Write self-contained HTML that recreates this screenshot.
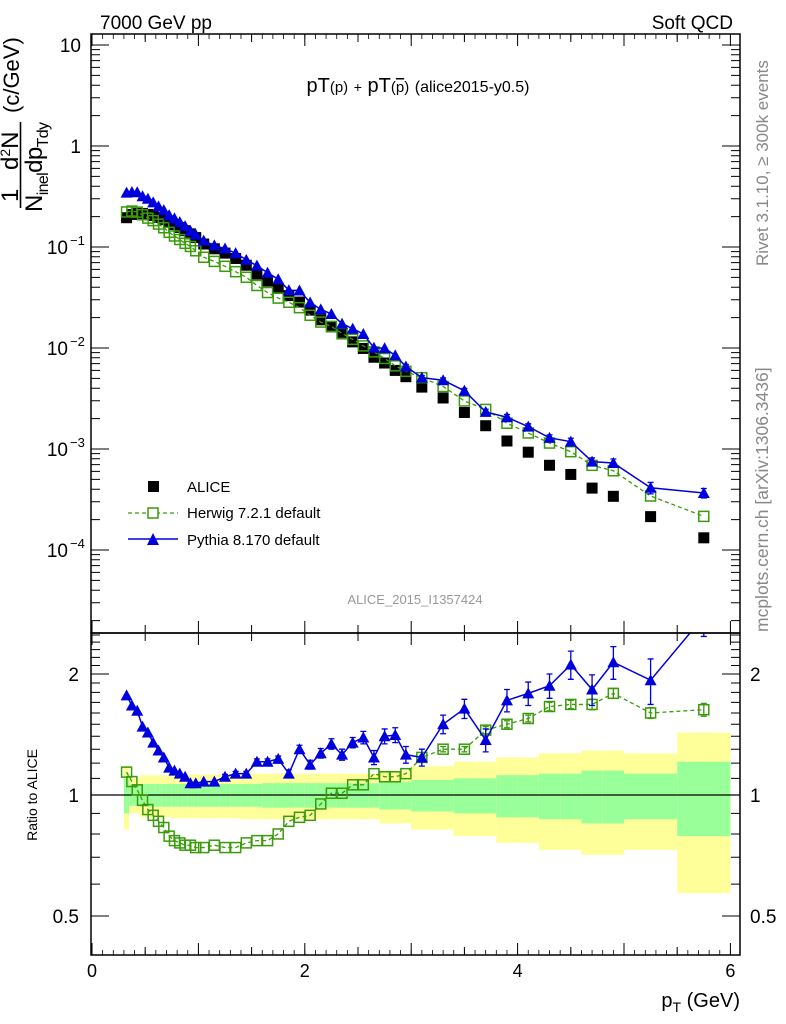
<!DOCTYPE html>
<html><head><meta charset="utf-8"><style>
html,body{margin:0;padding:0;background:#fff;}
svg{display:block;font-family:"Liberation Sans",sans-serif;}
</style></head><body>
<svg id="c" width="786" height="1024" viewBox="0 0 786 1024">
<g id="bands"></g>
<g id="marks"></g>
<g id="axes"></g>
<text x="100" y="29" font-size="19">7000 GeV pp</text>
<text x="733" y="29" font-size="19" text-anchor="end">Soft QCD</text>
<text x="418" y="92" font-size="20" text-anchor="middle">pT<tspan font-size="15">(p)</tspan> <tspan font-size="14">+</tspan> pT<tspan font-size="15">(</tspan><tspan font-size="15" text-decoration="overline">p</tspan><tspan font-size="15">)</tspan> <tspan font-size="16">(alice2015-y0.5)</tspan></text>
<text x="415" y="604" font-size="13" fill="#999" text-anchor="middle">ALICE_2015_I1357424</text>
<text transform="translate(768,266) rotate(-90)" font-size="17" fill="#888">Rivet 3.1.10, ≥ 300k events</text>
<text transform="translate(768,632) rotate(-90)" font-size="17.5" fill="#888">mcplots.cern.ch [arXiv:1306.3436]</text>
<g font-size="24">
<text transform="translate(18,202) rotate(-90)">1</text>
<text transform="translate(18,170) rotate(-90)">d<tspan font-size="14" dy="-8">2</tspan><tspan dy="8">N</tspan></text>
<line x1="20.5" y1="122" x2="20.5" y2="208" stroke="#000" stroke-width="1.6"/>
<text transform="translate(42,212) rotate(-90)" textLength="90">N<tspan font-size="16" dy="6">inel</tspan><tspan dy="-6">dp</tspan><tspan font-size="16" dy="6">Tdy</tspan></text>
<text transform="translate(19,113) rotate(-90)" font-size="22">(c/GeV)</text>
</g>
<text transform="translate(37,795) rotate(-90)" font-size="14" text-anchor="middle">Ratio to ALICE</text>
<text x="740" y="1007" font-size="20" text-anchor="end">p<tspan font-size="14" dy="5">T</tspan><tspan dy="-5"> (GeV)</tspan></text>
<g font-size="15">
<g><rect x="148" y="481" width="11" height="11" fill="#000"/><text x="187" y="492">ALICE</text></g>
<g><line x1="128" y1="513" x2="178" y2="513" stroke="#3a9a0a" stroke-dasharray="4,3" stroke-width="1.3"/><rect x="148" y="508" width="10" height="10" fill="#fff" stroke="#3a9a0a" stroke-width="1.5"/><text x="187" y="518">Herwig 7.2.1 default</text></g>
<g><line x1="128" y1="539" x2="178" y2="539" stroke="#0000dd" stroke-width="1.5"/><polygon points="147,545 159,545 153,533" fill="#0000dd"/><text x="187" y="545">Pythia 8.170 default</text></g>
</g>
</svg>
<script>
const xs=[0.325,0.375,0.425,0.475,0.525,0.575,0.625,0.675,0.725,0.775,0.825,0.875,0.925,0.975,1.05,1.15,1.25,1.35,1.45,1.55,1.65,1.75,1.85,1.95,2.05,2.15,2.25,2.35,2.45,2.55,2.65,2.75,2.85,2.95,3.1,3.3,3.5,3.7,3.9,4.1,4.3,4.5,4.7,4.9,5.25,5.75];
const binLo=[0.3,0.35,0.4,0.45,0.5,0.55,0.6,0.65,0.7,0.75,0.8,0.85,0.9,0.95,1.0,1.1,1.2,1.3,1.4,1.5,1.6,1.7,1.8,1.9,2.0,2.1,2.2,2.3,2.4,2.5,2.6,2.7,2.8,2.9,3.0,3.2,3.4,3.6,3.8,4.0,4.2,4.4,4.6,4.8,5.0,5.5];
const binHi=[0.35,0.4,0.45,0.5,0.55,0.6,0.65,0.7,0.75,0.8,0.85,0.9,0.95,1.0,1.1,1.2,1.3,1.4,1.5,1.6,1.7,1.8,1.9,2.0,2.1,2.2,2.3,2.4,2.5,2.6,2.7,2.8,2.9,3.0,3.2,3.4,3.6,3.8,4.0,4.2,4.4,4.6,4.8,5.0,5.5,6.0];
const alice=[0.195,0.21,0.215,0.215,0.21,0.205,0.196,0.187,0.177,0.167,0.156,0.145,0.135,0.124,0.107,0.096,0.087,0.077,0.066,0.054,0.046,0.039,0.033,0.0285,0.0237,0.019,0.0162,0.0138,0.0115,0.0099,0.0081,0.0071,0.006,0.0052,0.0041,0.0032,0.0023,0.0017,0.0012,0.00093,0.00069,0.00056,0.00041,0.00034,0.000214,0.000132];
const statErr=[0.10,0.06,0.06,0.065,0.065,0.065,0.065,0.065,0.065,0.065,0.065,0.065,0.065,0.065,0.065,0.065,0.065,0.065,0.065,0.065,0.07,0.07,0.07,0.07,0.07,0.07,0.07,0.07,0.07,0.07,0.07,0.08,0.08,0.08,0.09,0.09,0.10,0.10,0.12,0.12,0.13,0.13,0.15,0.15,0.13,0.21];
const totErr=[0.18,0.10,0.10,0.12,0.12,0.12,0.12,0.12,0.12,0.125,0.125,0.125,0.125,0.125,0.125,0.125,0.125,0.125,0.13,0.13,0.13,0.13,0.13,0.13,0.13,0.13,0.13,0.13,0.13,0.13,0.13,0.15,0.15,0.15,0.18,0.18,0.21,0.21,0.24,0.24,0.27,0.27,0.29,0.29,0.27,0.43];
const herwigRatio=[1.14,1.08,1.03,0.97,0.92,0.89,0.86,0.83,0.79,0.77,0.76,0.75,0.75,0.74,0.74,0.75,0.74,0.74,0.76,0.77,0.77,0.80,0.86,0.88,0.89,0.95,1.01,1.01,1.06,1.06,1.13,1.11,1.11,1.13,1.24,1.30,1.30,1.45,1.50,1.55,1.66,1.68,1.68,1.79,1.60,1.63];
const herwigErr=[0.005,0.005,0.005,0.005,0.005,0.005,0.005,0.005,0.005,0.005,0.005,0.005,0.005,0.005,0.005,0.005,0.005,0.005,0.005,0.005,0.005,0.005,0.005,0.005,0.005,0.008,0.008,0.008,0.01,0.01,0.01,0.01,0.012,0.012,0.015,0.02,0.02,0.03,0.03,0.03,0.04,0.04,0.05,0.05,0.05,0.06];
const pythiaRatio=[1.77,1.67,1.62,1.48,1.43,1.35,1.29,1.24,1.17,1.15,1.13,1.11,1.07,1.07,1.08,1.08,1.11,1.13,1.13,1.21,1.21,1.23,1.13,1.30,1.19,1.27,1.34,1.26,1.35,1.39,1.24,1.40,1.41,1.26,1.24,1.50,1.64,1.37,1.72,1.79,1.87,2.11,1.83,2.14,1.93,2.78];
const pythiaErr=[0.01,0.01,0.01,0.01,0.01,0.01,0.01,0.01,0.01,0.01,0.01,0.01,0.01,0.01,0.01,0.01,0.015,0.015,0.015,0.02,0.02,0.02,0.025,0.03,0.03,0.035,0.04,0.04,0.04,0.05,0.05,0.06,0.06,0.06,0.06,0.08,0.09,0.09,0.11,0.12,0.13,0.17,0.16,0.2,0.25,0.3];
const mainTicks=[10,1,0.1,0.01,0.001,0.0001];
const mainTickLabels=["10","1","10","10","10","10"];
const mainTickExp=["","","−1","−2","−3","−4"];
const ratioTicks=[2,1,0.5];
const ratioTickLabels=["2","1","0.5"];
const xTicks=[0,2,4,6];
const xTickLabels=["0","2","4","6"];

const NS="http://www.w3.org/2000/svg";
const L=91,R=740,T=34,MB=633,RB=955;
const sx=v=>L+1+v*106.4;
const syMain=v=>146-101*Math.log10(v);
const syRat=v=>795-121*Math.log2(v);
function el(tag,attrs,parent){const e=document.createElementNS(NS,tag);for(const k in attrs)e.setAttribute(k,attrs[k]);parent.appendChild(e);return e;}
const bands=document.getElementById('bands'),marks=document.getElementById('marks'),axes=document.getElementById('axes');

for(let i=0;i<xs.length;i++){
  const x0=sx(binLo[i]),x1=sx(binHi[i]);
  const y=el('rect',{x:x0,y:syRat(1+totErr[i]),width:x1-x0,height:syRat(1-totErr[i])-syRat(1+totErr[i]),fill:'#ffff99'},bands);
  
  
  const g=el('rect',{x:x0,y:syRat(1+statErr[i]),width:x1-x0,height:syRat(1-statErr[i])-syRat(1+statErr[i]),fill:'#99ff99'},bands);
  
  
}
const one=el('line',{x1:L,x2:R,y1:syRat(1),y2:syRat(1),stroke:'#000','stroke-width':1.3},bands);



function clipRect(id,y0,y1){const d=el('clipPath',{id:id},marks);el('rect',{x:L,y:y0,width:R-L,height:y1-y0},d);}
clipRect('cm',T,MB);clipRect('cr',MB,RB);
const gm=el('g',{'clip-path':'url(#cm)'},marks),gr=el('g',{'clip-path':'url(#cr)'},marks);





function series(g,vals,errs,sy,color,dash,marker,name){
  const pts=vals.map((v,i)=>sx(xs[i])+','+sy(v)).join(' ');
  const pl=el('polyline',{points:pts,fill:'none',stroke:color,'stroke-width':marker==='tri'?1.5:1.3,'stroke-dasharray':dash},g);
  
  
  vals.forEach((v,i)=>{
    const x=sx(xs[i]),y=sy(v);
    if(errs){const e=errs[i];const y1=sy(v+e),y2=sy(Math.max(v-e,1e-9));
      if(y2-y1>4){const eb=el('path',{d:`M${x},${y1}V${y2}M${x-3},${y1}H${x+3}M${x-3},${y2}H${x+3}`,stroke:color,'stroke-width':1.3,fill:'none'},g);
      
      }}
    let m;
    if(marker==='tri')m=el('polygon',{points:`${x-6},${y+5} ${x+6},${y+5} ${x},${y-6}`,fill:color},g);
    else m=el('rect',{x:x-5,y:y-5,width:10,height:10,fill:'#fff','fill-opacity':0.0,stroke:color,'stroke-width':1.5},g);
    
    
  });
}
alice.forEach((v,i)=>{
  const r=el('rect',{x:sx(xs[i])-5.5,y:syMain(v)-5.5,width:11,height:11,fill:'#000'},gm);
  
  
});
const herwigMain=alice.map((v,i)=>v*herwigRatio[i]);
const pythiaMain=alice.map((v,i)=>v*pythiaRatio[i]);
series(gm,herwigMain,herwigMain.map((v,i)=>v*herwigErr[i]/herwigRatio[i]),syMain,'#3a9a0a','4,3','sq','herwig');
series(gm,pythiaMain,pythiaMain.map((v,i)=>v*pythiaErr[i]/pythiaRatio[i]),syMain,'#0000dd','','tri','pythia');
series(gr,herwigRatio,herwigErr,syRat,'#3a9a0a','4,3','sq','herwig-ratio');
series(gr,pythiaRatio,pythiaErr,syRat,'#0000dd','','tri','pythia-ratio');

el('rect',{x:L,y:T,width:R-L,height:MB-T,fill:'none',stroke:'#000','stroke-width':1.5},axes);
el('rect',{x:L,y:MB,width:R-L,height:RB-MB,fill:'none',stroke:'#000','stroke-width':1.5},axes);
for(let v=0;v<=6.01;v+=0.5){const x=sx(v);const big=Math.abs(v-Math.round(v))<0.01?12:8;
  el('path',{d:`M${x},${T}v${big}M${x},${MB}v${-big}M${x},${MB}v${big}M${x},${RB}v${-big}`,stroke:'#000','stroke-width':1},axes);}
for(let v=0.1;v<6;v+=0.1){const x=sx(v);el('path',{d:`M${x},${RB}v-5M${x},${T}v5`,stroke:'#000','stroke-width':0.8},axes);}
xTicks.forEach((v,i)=>{const t=el('text',{x:sx(v),y:977,'font-size':18,'text-anchor':'middle'},axes);t.textContent=xTickLabels[i];
  
  });
for(let d=-5;d<=1;d++){for(let k=1;k<=9;k++){const v=k*Math.pow(10,d);const y=syMain(v);if(y<T||y>MB)continue;const len=k===1?18:9;
  el('path',{d:`M${L},${y}h${len}M${R},${y}h${-len}`,stroke:'#000','stroke-width':1},axes);}}
mainTicks.forEach((v,i)=>{const t=el('text',{x:mainTickExp[i]?68:81,y:syMain(v)+7,'font-size':19,'text-anchor':'end'},axes);t.textContent=mainTickLabels[i];
  
  
  if(mainTickExp[i]){const s=el('text',{x:70,y:syMain(v)-2,'font-size':13},axes);s.textContent=mainTickExp[i];
    
    }});
[0.4,0.5,0.6,0.7,0.8,0.9,1,1.1,1.2,1.3,1.4,1.5,1.6,1.7,1.8,1.9,2,2.1,2.2,2.3,2.4,2.5].forEach(v=>{const y=syRat(v);if(y<MB||y>RB)return;const len=(v===0.5||v===1||v===2)?18:9;
  el('path',{d:`M${L},${y}h${len}M${R},${y}h${-len}`,stroke:'#000','stroke-width':1},axes);});
ratioTicks.forEach((v,i)=>{const t=el('text',{x:79,y:syRat(v)+7,'font-size':19,'text-anchor':'end'},axes);t.textContent=ratioTickLabels[i];
  
  
  const t2=el('text',{x:750,y:syRat(v)+7,'font-size':19},axes);t2.textContent=ratioTickLabels[i];
  
  });
</script>
</body></html>
